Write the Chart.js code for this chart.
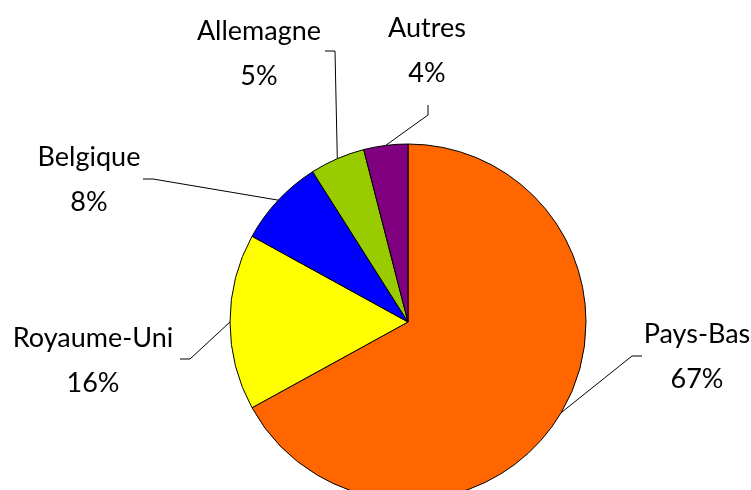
<!DOCTYPE html>
<html>
<head>
<meta charset="utf-8">
<script src="https://cdn.jsdelivr.net/npm/chart.js@4/dist/chart.umd.min.js"></script>
<style>
  html, body { margin: 0; padding: 0; background: #fff; overflow: hidden; }
  #wrap { width: 751px; height: 510px; position: relative; }
</style>
</head>
<body>
<div id="wrap"><canvas id="myChart"></canvas></div>
<script>
var pays = ["Pays-Bas", "Royaume-Uni", "Belgique", "Allemagne", "Autres"];
var parts = [67, 16, 8, 5, 4];
var couleurs = ["#FF6600", "#FFFF00", "#0000FF", "#99CC00", "#800080"];

// where each label sits: elbow of the leader line, end of the line, text centre
var placement = [
    { elbow: [632, 356], end: [642, 356], text: [697, 334] },
    { elbow: [190, 359], end: [180, 359], text: [93, 338] },
    { elbow: [153, 179], end: [143, 179], text: [89, 157] },
    { elbow: [335, 51], end: [325, 51], text: [259, 31] },
    { elbow: [428, 115], end: [428, 105], text: [427, 28] }
];

var etiquettes = {
    id: "etiquettes",
    afterDraw: function (chart) {
        var ctx = chart.ctx;
        var arcs = chart.getDatasetMeta(0).data;
        ctx.save();
        arcs.forEach(function (arc, i) {
            var p = placement[i];
            var mid = (arc.startAngle + arc.endAngle) / 2;
            var x0 = arc.x + Math.cos(mid) * arc.outerRadius;
            var y0 = arc.y + Math.sin(mid) * arc.outerRadius;
            ctx.strokeStyle = "#000";
            ctx.lineWidth = 1;
            ctx.beginPath();
            ctx.moveTo(x0, y0);
            ctx.lineTo(p.elbow[0], p.elbow[1]);
            ctx.lineTo(p.end[0], p.end[1]);
            ctx.stroke();

            ctx.fillStyle = "#000";
            ctx.font = "27px Lato";
            ctx.textAlign = "center";
            ctx.textBaseline = "middle";
            ctx.fillText(pays[i], p.text[0], p.text[1]);
            ctx.fillText(parts[i] + "%", p.text[0], p.text[1] + 45);
        });
        ctx.restore();
    }
};

document.addEventListener("DOMContentLoaded", function () {
    var canvas = document.getElementById("myChart");
    var ctx = canvas.getContext("2d");
    new Chart(ctx, {
        type: "pie",
        data: {
            labels: pays,
            datasets: [
                {
                    data: parts,
                    backgroundColor: couleurs,
                    borderColor: "#000",
                    borderWidth: 1,
                },
            ],
        },
        options: {
            responsive: true,
            maintainAspectRatio: false,
            animation: false,
            radius: 178,
            layout: { padding: { left: 230, right: 165, top: 144, bottom: 10 } },
            plugins: {
                legend: { display: false },
                tooltip: { enabled: false },
            },
        },
        plugins: [etiquettes],
    });
});
</script>
</body>
</html>
